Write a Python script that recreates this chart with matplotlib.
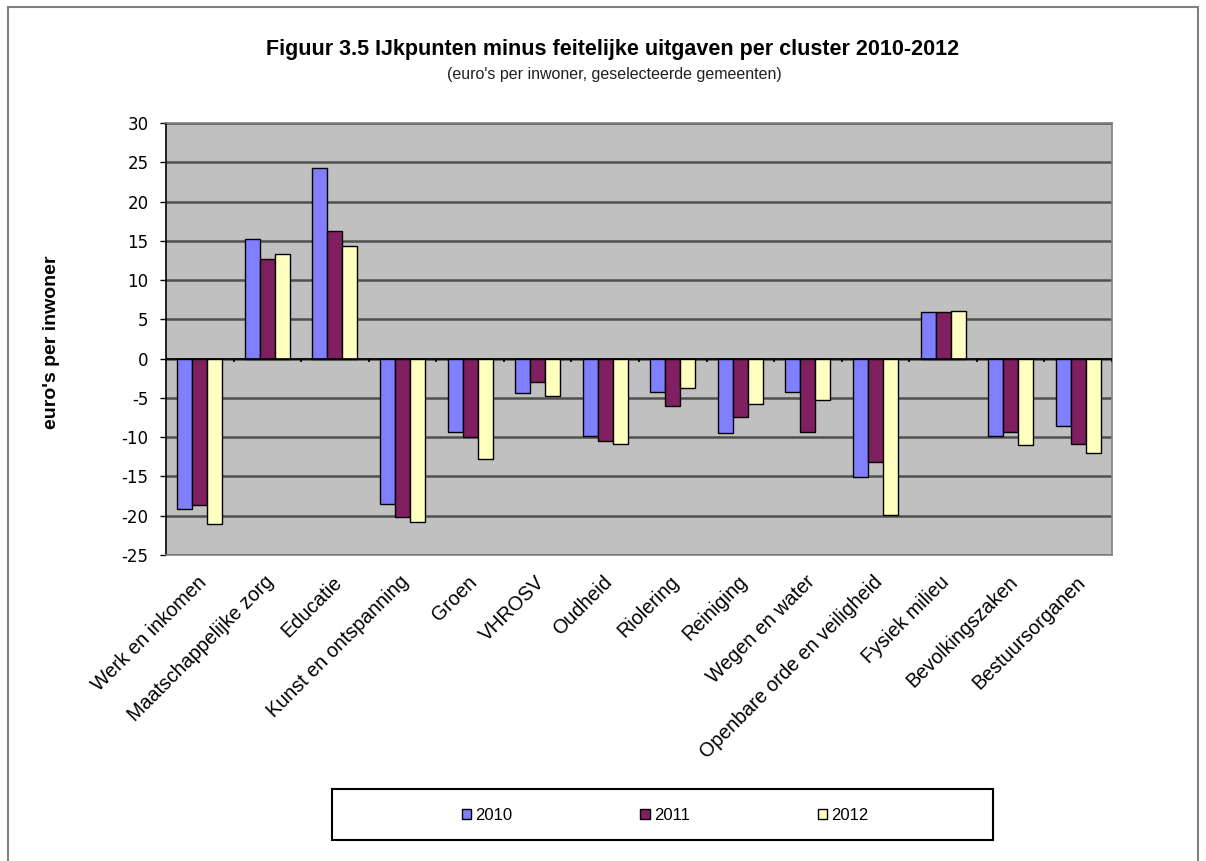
import matplotlib
matplotlib.use("Agg")
import matplotlib.pyplot as plt
from matplotlib.patches import Rectangle
from matplotlib.transforms import ScaledTranslation
import numpy as np

categories = [
    "Werk en inkomen", "Maatschappelijke zorg", "Educatie", "Kunst en ontspanning",
    "Groen", "VHROSV", "Oudheid", "Riolering", "Reiniging", "Wegen en water",
    "Openbare orde en veiligheid", "Fysiek milieu", "Bevolkingszaken", "Bestuursorganen",
]
years = ["2010", "2011", "2012"]
values_2010 = [-19.2, 15.2, 24.3, -18.5, -9.3, -4.4, -9.8, -4.2, -9.5, -4.2, -15.1, 5.9, -9.8, -8.6]
values_2011 = [-18.6, 12.7, 16.3, -20.1, -10.0, -3.0, -10.5, -6.0, -7.4, -9.3, -13.2, 5.9, -9.3, -10.9]
values_2012 = [-21.1, 13.3, 14.4, -20.8, -12.8, -4.7, -10.9, -3.7, -5.8, -5.3, -19.9, 6.1, -11.0, -12.0]
yticks = list(range(-25, 31, 5))

series = [values_2010, values_2011, values_2012]
colors = ["#8080FF", "#802060", "#FFFFC0"]

W, H = 1206, 861
fig = plt.figure(figsize=(W / 100, H / 100), dpi=100)
fig.patch.set_facecolor("white")

# outer frame of the chart object
fig.add_artist(Rectangle((8 / W, -0.02), 1190 / W, 1 - 7 / H + 0.02,
                         transform=fig.transFigure, fill=False,
                         edgecolor="#808080", linewidth=1.5))

ax = fig.add_axes([166 / W, 1 - 555 / H, 946 / W, 432 / H])
ax.set_facecolor("#C0C0C0")

n = len(categories)
x = np.arange(n)
width = 0.222
for i, (vals, col, yr) in enumerate(zip(series, colors, years)):
    ax.bar(x + (i - 1) * width, vals, width, color=col, edgecolor="black",
           linewidth=1.0, label=yr, zorder=3)

ax.set_xlim(-0.5, n - 0.5)
ax.set_ylim(-25, 30)
ax.set_yticks(yticks)
ax.set_yticklabels([str(t) for t in yticks], fontsize=12, family="DejaVu Sans")
ax.yaxis.grid(True, color="#505050", linewidth=1.8, zorder=1)
ax.set_axisbelow(True)

# zero line with category-boundary ticks
ax.axhline(0, color="black", linewidth=1.2, zorder=4)
bounds = np.arange(n + 1) - 0.5
ax.vlines(bounds, -0.45, 0, color="black", linewidth=1.2, zorder=4)

for side in ["top", "right", "bottom"]:
    ax.spines[side].set_color("#808080")
    ax.spines[side].set_linewidth(1.2)
ax.spines["left"].set_color("black")
ax.spines["left"].set_linewidth(1.2)
ax.tick_params(axis="y", direction="out", length=4.5, width=1, color="black", pad=8)

ax.set_xticks(x)
ax.set_xticklabels(categories, rotation=45, ha="right", va="top",
                   rotation_mode="anchor", fontsize=14.2, family="Liberation Sans")
ax.tick_params(axis="x", length=0, pad=12.5)
for lbl in ax.get_xticklabels():
    lbl.set_transform(lbl.get_transform() + ScaledTranslation(-3 / 100, 0, fig.dpi_scale_trans))

ax.set_ylabel("euro's per inwoner", fontsize=14, fontweight="bold",
              family="Liberation Sans")
ax.yaxis.set_label_coords((60 - 166) / 946, (555 - 342) / 432)

fig.text(613 / W, 1 - 49 / H, "Figuur 3.5 IJkpunten minus feitelijke uitgaven per cluster 2010-2012",
         ha="center", va="center", fontsize=15.5, fontweight="bold",
         family="Liberation Sans")
fig.text(614 / W, 1 - 74 / H, "(euro's per inwoner, geselecteerde gemeenten)",
         ha="center", va="center", fontsize=11.5, color="#202020",
         family="Liberation Sans")

# legend box
fig.add_artist(Rectangle((332 / W, 1 - 840 / H), 661 / W, 51 / H,
                         transform=fig.transFigure, fill=False,
                         edgecolor="black", linewidth=1.5))
leg = fig.legend(loc="center", bbox_to_anchor=(665 / W, 1 - 815 / H),
                 ncol=3, frameon=False,
                 handlelength=0.55, handleheight=0.55,
                 handletextpad=0.25, columnspacing=7.7,
                 prop={"family": "Liberation Sans", "size": 12})

fig.savefig("out.png", dpi=100)
